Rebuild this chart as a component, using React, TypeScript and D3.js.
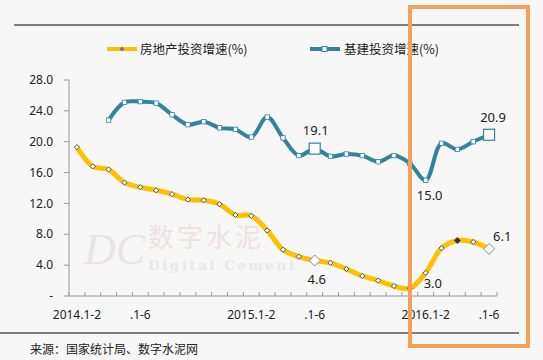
import React from "react";
import * as d3 from "d3";

const categories = [
  "2014.1-2", "2014.1-3", "2014.1-4", "2014.1-5", "2014.1-6", "2014.1-7", "2014.1-8", "2014.1-9", "2014.1-10", "2014.1-11", "2014.1-12",
  "2015.1-2", "2015.1-3", "2015.1-4", "2015.1-5", "2015.1-6", "2015.1-7", "2015.1-8", "2015.1-9", "2015.1-10", "2015.1-11", "2015.1-12",
  "2016.1-2", "2016.1-3", "2016.1-4", "2016.1-5", "2016.1-6",
];
const realEstate: number[] = [
  19.3, 16.8, 16.4, 14.7, 14.1, 13.7, 13.2, 12.5, 12.4, 11.9, 10.5,
  10.4, 8.5, 6.0, 5.1, 4.6, 4.3, 3.5, 2.6, 2.0, 1.3, 1.0,
  3.0, 6.2, 7.2, 7.0, 6.1,
];
const infra: (number | null)[] = [
  null, null, 22.8, 25.1, 25.2, 25.0, 23.5, 22.2, 22.6, 21.8, 21.6,
  20.6, 23.2, 20.5, 18.2, 19.1, 18.1, 18.4, 18.2, 17.4, 18.2, 17.2,
  15.0, 19.8, 19.0, 20.0, 20.9,
];
const xTickLabels: [number, string][] = [
  [0, "2014.1-2"], [4, ".1-6"], [11, "2015.1-2"], [15, ".1-6"], [22, "2016.1-2"], [26, ".1-6"],
];
const yTicks = [0, 4, 8, 12, 16, 20, 24, 28];
const seriesNames = ["房地产投资增速(%)", "基建投资增速(%)"];
const realEstateLabels: [number, string][] = [[15, "4.6"], [22, "3.0"], [26, "6.1"]];
const infraLabels: [number, string][] = [[15, "19.1"], [22, "15.0"], [26, "20.9"]];
const sourceText = "来源：国家统计局、数字水泥网";

const W = 543, H = 360;
const YELLOW = "#FFC000";
const BLUE = "#31849B";
const ORANGE = "#F4A15D";
const FONT = "'Noto Sans', 'Noto Sans CJK SC', sans-serif";
const CJK = "'Noto Sans CJK SC', sans-serif";

export default function App() {
  const x = d3.scaleBand<string>().domain(categories).range([69, 497]).padding(0);
  const y = d3.scaleLinear().domain([0, 28]).range([296, 80]);
  const cx = (i: number) => (x(categories[i]) as number) + x.bandwidth() / 2;

  const lineRE = d3.line<number>().x((_, i) => cx(i)).y((d) => y(d)).curve(d3.curveCatmullRom.alpha(0.5));
  const infraPts = infra.map((v, i) => ({ v, i })).filter((p) => p.v != null) as { v: number; i: number }[];
  const lineIn = d3.line<{ v: number; i: number }>().x((p) => cx(p.i)).y((p) => y(p.v)).curve(d3.curveCatmullRom.alpha(0.5));

  const diamond = (px: number, py: number, r: number) =>
    `M${px},${py - r}L${px + r},${py}L${px},${py + r}L${px - r},${py}Z`;

  const bigIdx = [15, 26];

  return (
    <svg width={W} height={H} style={{ position: "absolute", left: 0, top: 0, background: "#F7F7F7" }}>
      <rect x={0} y={0} width={W} height={H} fill="#F7F7F7" />
      {/* top and bottom rules */}
      <line x1={14} x2={519} y1={25} y2={25} stroke="#555" strokeWidth={1.3} />
      <line x1={0} x2={519} y1={333} y2={333} stroke="#555" strokeWidth={1.3} />

      {/* watermark */}
      <g opacity={0.6}>
        <text x={84} y={264} fontFamily="'Liberation Serif', serif" fontStyle="italic" fontSize={44} fill="#e3dada">DC</text>
        <text x={148} y={247} fontFamily="'Noto Sans CJK SC', serif" fontSize={26} fill="#ecd4d4" letterSpacing={3}>数字水泥</text>
        <text x={148} y={270} fontFamily="'DejaVu Serif', serif" fontWeight="bold" fontSize={13.5} fill="#e0e0e0" letterSpacing={2.5}>Digital Cement</text>
      </g>

      {/* legend */}
      <line x1={107} x2={137} y1={49} y2={49} stroke={YELLOW} strokeWidth={4} />
      <path d={diamond(122, 49, 2.5)} fill="#777" />
      <text x={140} y={53.5} fontFamily={CJK} fontSize={12.5} fill="#222">{seriesNames[0]}</text>
      <line x1={310} x2={340} y1={49} y2={49} stroke={BLUE} strokeWidth={4} />
      <rect x={322} y={46.5} width={5} height={5} fill="#fff" stroke={BLUE} strokeWidth={1} />
      <text x={344} y={53.5} fontFamily={CJK} fontSize={12.5} fill="#222">{seriesNames[1]}</text>

      {/* y axis */}
      <line x1={69} x2={69} y1={y(28)} y2={y(0)} stroke="#999" strokeWidth={1} />
      {yTicks.map((t) => (
        <g key={t}>
          <line x1={64} x2={69} y1={y(t)} y2={y(t)} stroke="#999" />
          <text x={53} y={y(t)} dy="0.35em" textAnchor="end" fontFamily={FONT} fontSize={12} fill="#222">
            {t === 0 ? "-" : t.toFixed(1)}
          </text>
        </g>
      ))}

      {/* x axis */}
      <line x1={69} x2={497} y1={y(0)} y2={y(0)} stroke="#999" strokeWidth={1} />
      {categories.map((c) => (
        <line key={c} x1={x(c) as number} x2={x(c) as number} y1={y(0)} y2={y(0) - 4} stroke="#999" />
      ))}
      <line x1={497} x2={497} y1={y(0)} y2={y(0) - 4} stroke="#999" />
      {xTickLabels.map(([i, s]) => (
        <text key={i} x={cx(i)} y={319} textAnchor="middle" fontFamily={FONT} fontSize={12} fill="#222">{s}</text>
      ))}

      {/* infra line */}
      <path d={lineIn(infraPts) || ""} fill="none" stroke={BLUE} strokeWidth={4} strokeLinejoin="round" />
      {infraPts.map((p) =>
        bigIdx.includes(p.i) ? (
          <rect key={p.i} x={cx(p.i) - 5.5} y={y(p.v) - 5.5} width={11} height={11} fill="#fff" stroke={BLUE} strokeWidth={1.2} />
        ) : (
          <rect key={p.i} x={cx(p.i) - 2.2} y={y(p.v) - 2.2} width={4.4} height={4.4} fill="#fff" stroke={BLUE} strokeWidth={0.8} />
        )
      )}

      {/* real estate line */}
      <path d={lineRE(realEstate) || ""} fill="none" stroke={YELLOW} strokeWidth={5} strokeLinejoin="round" />
      {realEstate.map((v, i) =>
        bigIdx.includes(i) ? (
          <path key={i} d={diamond(cx(i), y(v), 5.5)} fill="#fff" stroke="#888" strokeWidth={1} />
        ) : i === 24 ? (
          <path key={i} d={diamond(cx(i), y(v), 3)} fill="#334" stroke="#334" strokeWidth={0.8} />
        ) : (
          <path key={i} d={diamond(cx(i), y(v), 2.6)} fill="#fff" stroke="#444" strokeWidth={0.9} />
        )
      )}

      {/* data labels */}
      {infraLabels.map(([i, s]) => {
        const v = infra[i] as number;
        const pos: Record<number, [number, number]> = { 15: [1, -18], 22: [4, 15], 26: [4, -17] };
        return (
          <text key={"i" + i} x={cx(i) + pos[i][0]} y={y(v) + pos[i][1]} dy="0.35em" textAnchor="middle" fontFamily={FONT} fontSize={13} fill="#222">{s}</text>
        );
      })}
      {realEstateLabels.map(([i, s]) => {
        const v = realEstate[i];
        const pos: Record<number, [number, number]> = { 15: [2, 19], 22: [-2, 11], 26: [4, -12] };
        return (
          <text key={"r" + i} x={cx(i) + pos[i][0]} y={y(v) + pos[i][1]} dy="0.35em" textAnchor={i === 15 ? "middle" : "start"} fontFamily={FONT} fontSize={13} fill="#222">{s}</text>
        );
      })}

      {/* source */}
      <text x={30} y={354} fontFamily={CJK} fontSize={12} fill="#222">{sourceText}</text>

      {/* highlight box */}
      <rect x={410} y={7} width={118} height={339} fill="none" stroke={ORANGE} strokeWidth={4} />
    </svg>
  );
}
